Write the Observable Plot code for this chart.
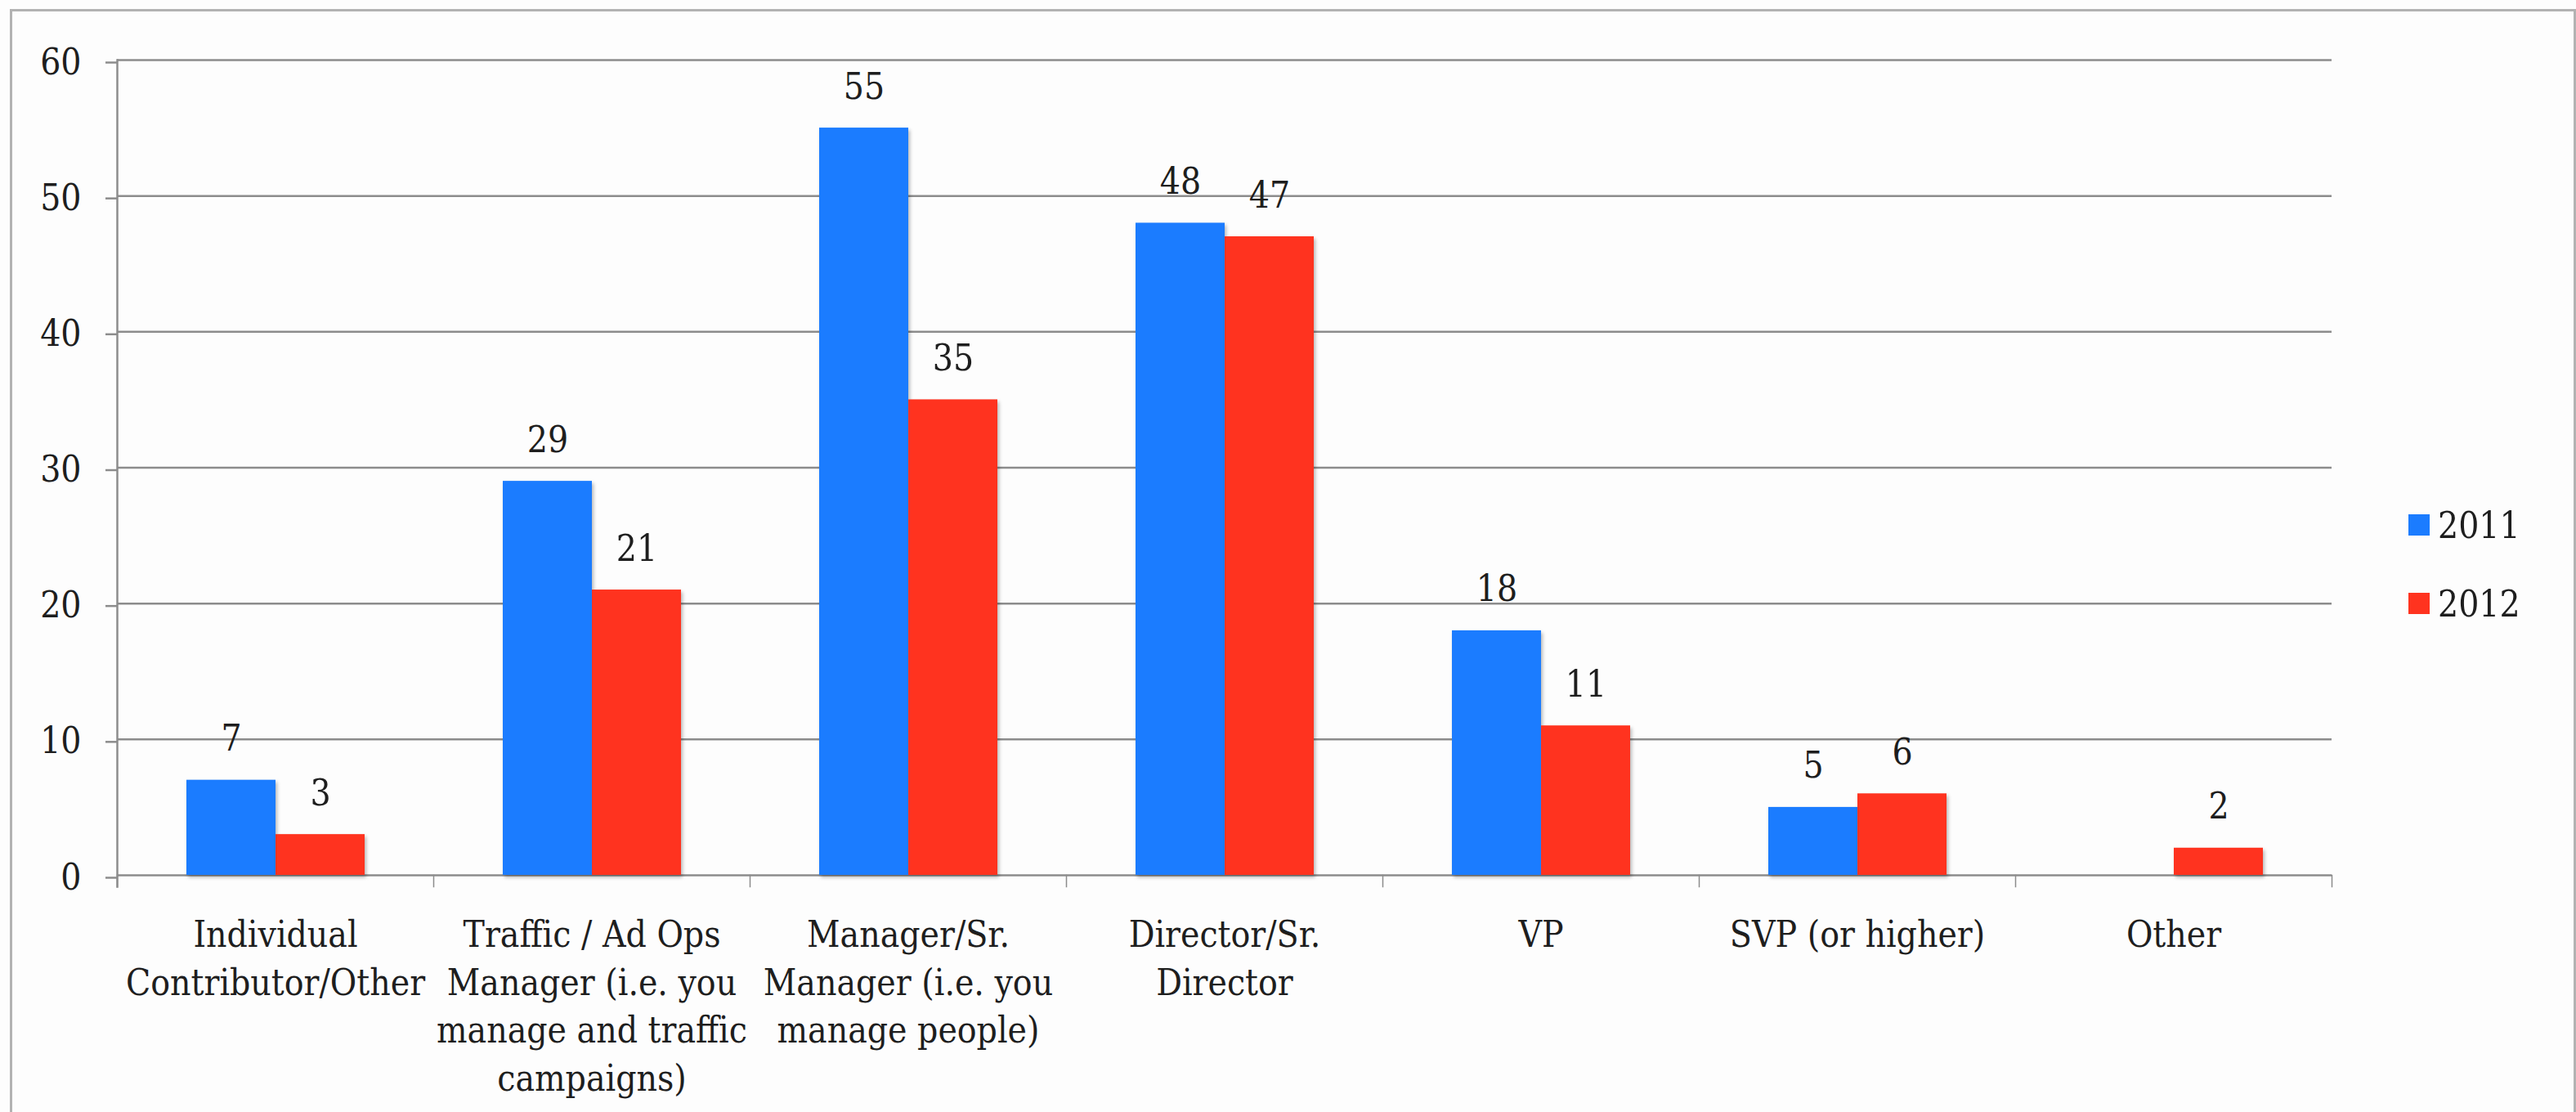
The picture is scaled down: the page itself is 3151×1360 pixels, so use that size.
<!DOCTYPE html>
<html>
<head>
<meta charset="utf-8">
<script src="https://cdn.jsdelivr.net/npm/d3@7"></script>
<script src="https://cdn.jsdelivr.net/npm/@observablehq/plot@0.6"></script>
<style>
  html, body { margin: 0; padding: 0; background: #fdfdfd; }
  #wrap { position: relative; width: 3151px; height: 1360px; overflow: hidden; background: #fdfdfd; }
  #border { position: absolute; left: 12px; top: 11px; width: 3139px; height: 1400px; border: 3px solid #b2b2b2; box-sizing: border-box; pointer-events: none; }
  #chart { position: absolute; left: 0; top: 0; }
  #chart g[aria-label="bar"] { filter: drop-shadow(2px 3px 2px rgba(0,0,0,0.28)); }
  #legend { position: absolute; left: 2946px; top: 629px; font-family: "DejaVu Serif Condensed", "DejaVu Serif", serif; font-size: 44px; color: #1e1e1e; }
  .item { position: absolute; left: 0; display: flex; align-items: center; height: 26px; white-space: nowrap; }
  .sw { width: 26px; height: 26px; margin-right: 10px; }
</style>
</head>
<body>
<div id="wrap">
  <div id="chart"></div>
  <div id="border"></div>
  <div id="legend"></div>
</div>
<script>
const categories = [
  "Individual Contributor/Other",
  "Traffic / Ad Ops Manager (i.e. you manage and traffic campaigns)",
  "Manager/Sr. Manager (i.e. you manage people)",
  "Director/Sr. Director",
  "VP",
  "SVP (or higher)",
  "Other"
];
const tickLabels = [
  "Individual\nContributor/Other",
  "Traffic / Ad Ops\nManager (i.e. you\nmanage and traffic\ncampaigns)",
  "Manager/Sr.\nManager (i.e. you\nmanage people)",
  "Director/Sr.\nDirector",
  "VP",
  "SVP (or higher)",
  "Other"
];
const series = ["2011", "2012"];
const values2011 = [7, 29, 55, 48, 18, 5, null];
const values2012 = [3, 21, 35, 47, 11, 6, 2];
const colors = ["#1b7cff", "#ff331f"];
const yTicks = [0, 10, 20, 30, 40, 50, 60];

const rows = [];
categories.forEach((c, i) => {
  [values2011, values2012].forEach((vals, s) => {
    if (vals[i] != null) rows.push({category: c, series: series[s], value: vals[i]});
  });
});

const W = 3151, H = 1360;
const mL = 143, mR = 299, mT = 73, mB = 290;
const innerH = H - mT - mB;
const gridColor = "#8c8c8c";
const textColor = "#1e1e1e";

const chart = Plot.plot({
  width: W,
  height: H,
  marginLeft: mL,
  marginRight: mR,
  marginTop: mT,
  marginBottom: mB,
  style: {fontFamily: "'DejaVu Serif Condensed', 'DejaVu Serif', serif", fontSize: "44px", color: textColor, background: "transparent", overflow: "visible"},
  fx: {domain: categories, padding: 0, label: null, axis: null},
  x: {domain: series, paddingInner: 0, paddingOuter: 0.76, axis: null},
  y: {domain: [0, 60], axis: null},
  color: {domain: series, range: colors},
  marks: [
    Plot.gridY(yTicks, {stroke: gridColor, strokeOpacity: 1, strokeWidth: 2.5}),
    Plot.barY(rows, {fx: "category", x: "series", y: "value", fill: "series"}),
    Plot.text(rows, {fx: "category", x: "series", y: "value", text: d => String(d.value), lineAnchor: "bottom", dy: -36, fill: textColor}),
    Plot.axisY(yTicks, {tickSize: 14, tickPadding: 30, dy: 3, stroke: gridColor, strokeWidth: 2.5, label: null, fill: textColor}),
    Plot.axisFx({anchor: "bottom", tickSize: 0, tickPadding: 46, lineHeight: 1.33, label: null, fill: textColor,
      tickFormat: d => tickLabels[categories.indexOf(d)]}),
    Plot.frame({anchor: "left", facetAnchor: "left", stroke: gridColor, strokeWidth: 2.5, insetBottom: -14}),
    Plot.frame({anchor: "left", stroke: gridColor, strokeWidth: 1.5, insetTop: innerH, insetBottom: -14}),
    Plot.frame({anchor: "right", facetAnchor: "right", stroke: gridColor, strokeWidth: 1.5, insetTop: innerH, insetBottom: -14})
  ]
});
document.getElementById("chart").appendChild(chart);

const legend = document.getElementById("legend");
series.forEach((s, i) => {
  const item = document.createElement("div");
  item.className = "item";
  item.style.top = (i * 96) + "px";
  const sw = document.createElement("div");
  sw.className = "sw";
  sw.style.background = colors[i];
  const t = document.createElement("span");
  t.textContent = s;
  item.appendChild(sw);
  item.appendChild(t);
  legend.appendChild(item);
});
</script>
</body>
</html>
